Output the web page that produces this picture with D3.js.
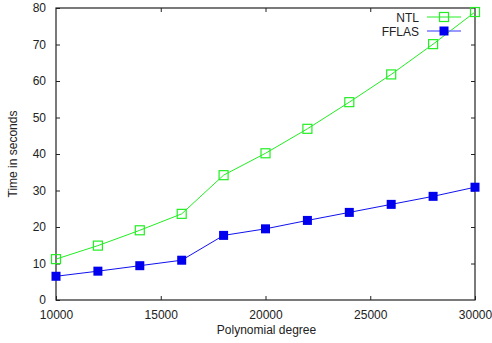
<!DOCTYPE html>
<html>
<head>
<meta charset="utf-8">
<script src="https://cdn.jsdelivr.net/npm/d3@7"></script>
<style>
  body { margin: 0; background: #fff; }
  text { font-family: "Liberation Sans", Arial, sans-serif; font-size: 12px; fill: #222; }
</style>
</head>
<body>
<div id="chart"></div>
<script>
// data
const degrees = [10000, 12000, 14000, 16000, 18000, 20000, 22000, 24000, 26000, 28000, 30000];
const ntl = [11.2, 14.9, 19.1, 23.6, 34.2, 40.2, 46.9, 54.2, 61.8, 70.1, 78.9];
const fflas = [6.5, 7.9, 9.4, 10.9, 17.7, 19.5, 21.8, 24.0, 26.2, 28.4, 30.9];
const xTicks = [10000, 15000, 20000, 25000, 30000];
const yTicks = [0, 10, 20, 30, 40, 50, 60, 70, 80];

const W = 492, H = 343;
const m = {left: 56, right: 17, top: 8, bottom: 43};

const svg = d3.select("#chart").append("svg")
   .attr("width", W)
   .attr("height", H);

const x = d3.scaleLinear().domain([10000, 30000]).range([m.left, W - m.right]);
const y = d3.scaleLinear().domain([0, 80]).range([H - m.bottom, m.top]);

// axes (ticks inward, mirrored like gnuplot)
const axisStyle = g => {
  g.select(".domain").remove();
  g.selectAll(".tick line").attr("stroke", "#222");
};
svg.append("g")
   .attr("transform", `translate(0,${H - m.bottom})`)
   .call(d3.axisBottom(x).tickValues(xTicks).tickSize(-4).tickPadding(10).tickFormat(d3.format("d")))
   .call(axisStyle)
   .call(g => g.selectAll("text").style("font-size", "12px").attr("fill", "#222"));
svg.append("g")
   .attr("transform", `translate(0,${m.top})`)
   .call(d3.axisTop(x).tickValues(xTicks.slice(1, -1)).tickSize(-4).tickFormat(""))
   .call(axisStyle);
svg.append("g")
   .attr("transform", `translate(${m.left},0)`)
   .call(d3.axisLeft(y).tickValues(yTicks).tickSize(-4).tickPadding(10))
   .call(axisStyle)
   .call(g => g.selectAll("text").style("font-size", "12px").attr("fill", "#222"));
svg.append("g")
   .attr("transform", `translate(${W - m.right},0)`)
   .call(d3.axisRight(y).tickValues(yTicks.slice(1, -1)).tickSize(-4).tickFormat(""))
   .call(axisStyle);

// frame
svg.append("rect")
   .attr("x", m.left).attr("y", m.top)
   .attr("width", W - m.left - m.right)
   .attr("height", H - m.top - m.bottom)
   .attr("fill", "none").attr("stroke", "#222").attr("stroke-width", 1.2);

// labels
svg.append("text")
   .attr("x", (m.left + W - m.right) / 2 + 1).attr("y", 334)
   .attr("text-anchor", "middle")
   .text("Polynomial degree");
svg.append("text")
   .attr("transform", `translate(17,${(m.top + H - m.bottom) / 2}) rotate(-90)`)
   .attr("text-anchor", "middle")
   .text("Time in seconds");

const line = d3.line().x((d, i) => x(degrees[i])).y(d => y(d));

// NTL series
svg.append("path").datum(ntl)
   .attr("d", line).attr("fill", "none").attr("stroke", "#22ee22").attr("stroke-width", 1);
svg.selectAll(".ntl").data(ntl).enter().append("rect")
   .attr("class", "ntl")
   .attr("x", (d, i) => x(degrees[i]) - 4.5)
   .attr("y", d => y(d) - 4.5)
   .attr("width", 9).attr("height", 9)
   .attr("fill", "none").attr("stroke", "#22ee22").attr("stroke-width", 1.2);

// FFLAS series
svg.append("path").datum(fflas)
   .attr("d", line).attr("fill", "none").attr("stroke", "#1111ee").attr("stroke-width", 1);
svg.selectAll(".fflas").data(fflas).enter().append("rect")
   .attr("class", "fflas")
   .attr("x", (d, i) => x(degrees[i]) - 4.5)
   .attr("y", d => y(d) - 4.5)
   .attr("width", 9).attr("height", 9)
   .attr("fill", "#0000ee");

// legend
const leg = svg.append("g");
const items = [
  {name: "NTL", color: "#22ee22", filled: false, y: 17},
  {name: "FFLAS", color: "#0000ee", filled: true, y: 31}
];
items.forEach(it => {
  leg.append("text").attr("x", 419).attr("y", it.y + 4.5)
     .attr("text-anchor", "end").text(it.name);
  leg.append("line").attr("x1", 427).attr("x2", 461)
     .attr("y1", it.y).attr("y2", it.y)
     .attr("stroke", it.filled ? "#7777ff" : it.color).attr("stroke-width", it.filled ? 1.5 : 1);
  leg.append("rect").attr("x", 444 - 4.5).attr("y", it.y - 4.5)
     .attr("width", 9).attr("height", 9)
     .attr("fill", it.filled ? it.color : "none")
     .attr("stroke", it.filled ? "none" : it.color).attr("stroke-width", 1.2);
});
</script>
</body>
</html>
